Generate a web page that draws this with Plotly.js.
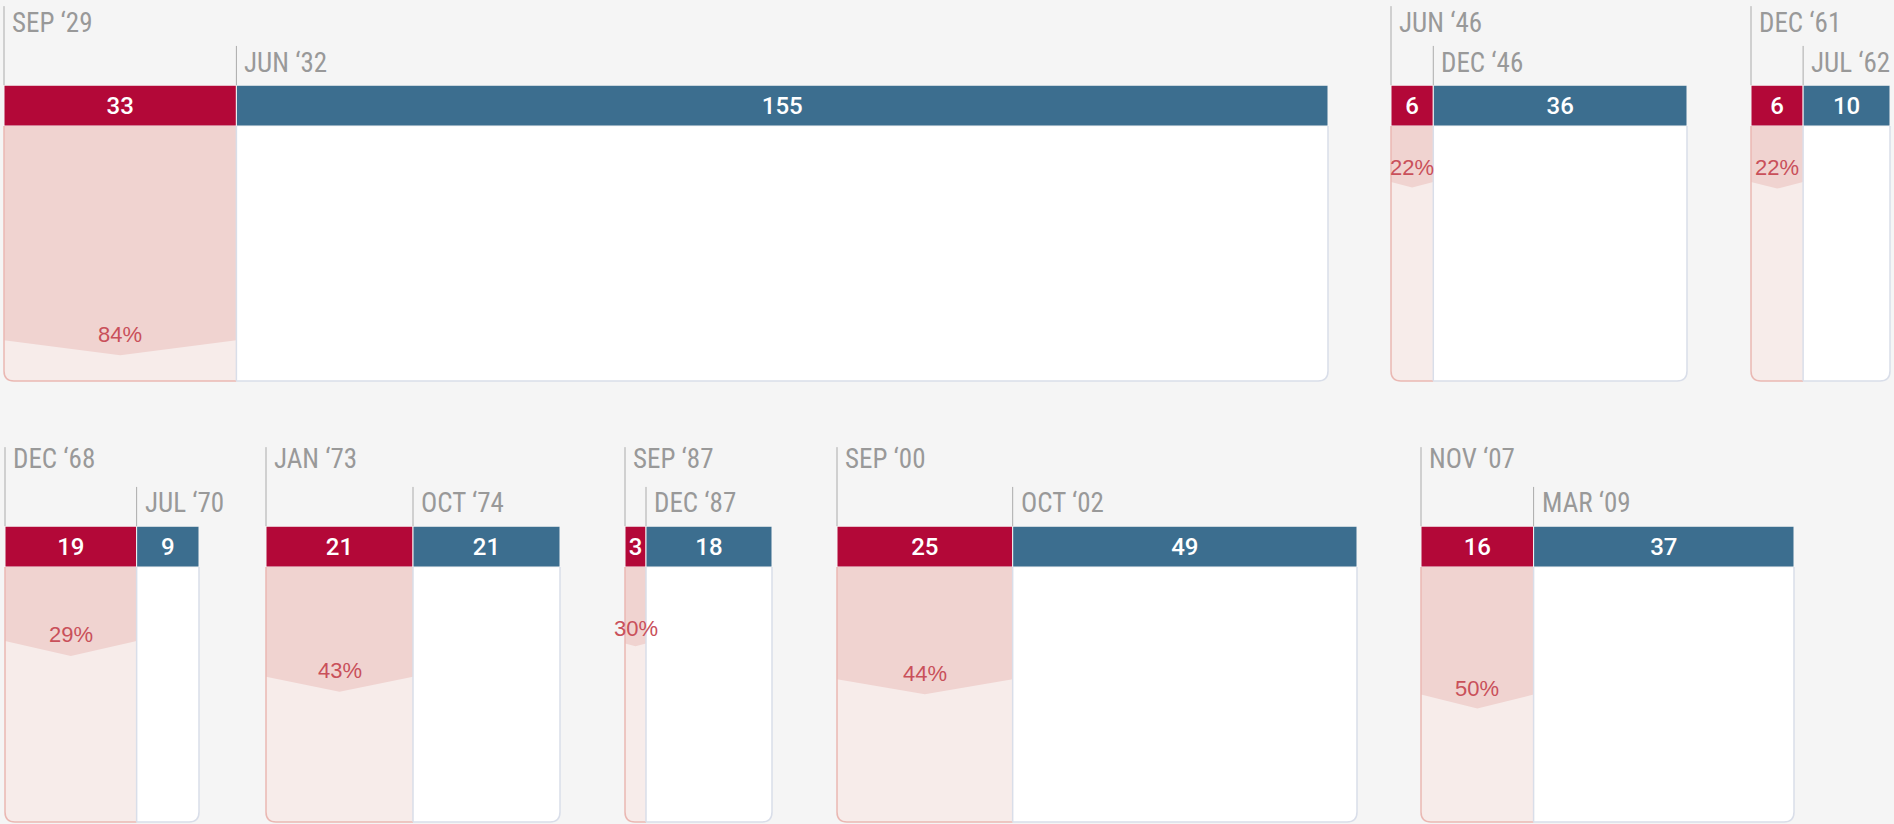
<!DOCTYPE html>
<html>
<head>
<meta charset="utf-8">
<script src="https://cdn.plot.ly/plotly-3.0.1.min.js"></script>
<style>html,body{margin:0;padding:0;background:#f5f5f5;}#chart{width:1894px;height:824px;}</style>
</head>
<body>
<div id="chart"></div>
<script>
// ---------- DATA ----------
const startLabels  = ['SEP \u201829','JUN \u201846','DEC \u201861','DEC \u201868','JAN \u201873','SEP \u201887','SEP \u201800','NOV \u201807'];
const troughLabels = ['JUN \u201832','DEC \u201846','JUL \u201862','JUL \u201870','OCT \u201874','DEC \u201887','OCT \u201802','MAR \u201809'];
const declineMonths  = [33, 6, 6, 19, 21, 3, 25, 16];
const recoveryMonths = [155, 36, 10, 9, 21, 18, 49, 37];
const dropPct        = [84, 22, 22, 29, 43, 30, 44, 50];
const rowOf          = [0, 0, 0, 1, 1, 1, 1, 1];

// ---------- LAYOUT (pixel placement of each group) ----------
const W = 1894, H = 824;
const groupLeftPx  = [4, 1391, 1751, 5, 266, 625, 837, 1421];
const groupRightPx = [1328, 1687, 1890, 199, 560, 772, 1357, 1794];
const YPX = 2.55;               // px per percent unit (panel = 100 units)
const startLabelY  = [40.4, 42.2];
const troughLabelY = [24.7, 25.1];
const RED = '#b30838', BLUE = '#3c6e8f';
const PINK_DARK = '#f0d3d0', PINK_LIGHT = '#f7ecea';
const RED_BORDER = '#eab8b3', BLUE_BORDER = '#d9dee9';
const LABEL_GRAY = '#999999', TICK_GRAY = '#ababab';
const PCT_RED = '#c9505a';
const COND = '"Liberation Sans Narrow","Roboto Condensed","DejaVu Sans Condensed","Arial Narrow",sans-serif';
const SANS = '"Liberation Sans",Arial,Helvetica,sans-serif';
const NUMF = 'Roboto,"Liberation Sans",Arial,sans-serif';

const traces = [], shapes = [], annotations = [];
const layout = {
  width: W, height: H,
  margin: {l:0, r:0, t:0, b:0},
  paper_bgcolor: '#f5f5f5', plot_bgcolor: 'rgba(0,0,0,0)',
  showlegend: false, barmode: 'overlay', hovermode: false,
  yaxis:  {domain:[1-392/H, 1], range:[-100-(392-381)/YPX, 126/YPX], visible:false, fixedrange:true, anchor:'x'},
  yaxis2: {domain:[0, 1-425/H], range:[-100-(824-822)/YPX, (567-425)/YPX], visible:false, fixedrange:true, anchor:'x4'}
};

for (let i = 0; i < declineMonths.length; i++) {
  const d = declineMonths[i], r = recoveryMonths[i], T = d + r, p = dropPct[i];
  const L = groupLeftPx[i], R = groupRightPx[i];
  const ppu = (R - L) / T;                 // px per month in this group
  const padL = Math.min(8, L), padR = Math.min(8, W - R);
  const xa = i === 0 ? 'x' : 'x' + (i + 1);
  const row = rowOf[i];
  const ya = row === 0 ? 'y' : 'y2';
  layout[i === 0 ? 'xaxis' : 'xaxis' + (i + 1)] = {
    domain: [(L - padL) / W, (R + padR) / W],
    range: [-padL / ppu, T + padR / ppu],
    visible: false, fixedrange: true, anchor: ya
  };
  const rx = 10 / ppu, ry = 10 / YPX;

  // column fills
  shapes.push({type:'path', xref:xa, yref:ya, layer:'below', line:{width:0}, fillcolor:PINK_LIGHT,
    path:`M0,0 L0,${-100+ry} Q0,-100 ${rx},-100 L${d},-100 L${d},0 Z`});
  shapes.push({type:'path', xref:xa, yref:ya, layer:'below', line:{width:0}, fillcolor:'#ffffff',
    path:`M${d},0 L${d},-100 L${T-rx},-100 Q${T},-100 ${T},${-100+ry} L${T},0 Z`});
  // outlines
  shapes.push({type:'path', xref:xa, yref:ya, layer:'above', line:{color:RED_BORDER, width:1.5}, fillcolor:'rgba(0,0,0,0)',
    path:`M0,0 L0,${-100+ry} Q0,-100 ${rx},-100 L${d},-100`});
  shapes.push({type:'path', xref:xa, yref:ya, layer:'above', line:{color:BLUE_BORDER, width:1.5}, fillcolor:'rgba(0,0,0,0)',
    path:`M${d},-100 L${T-rx},-100 Q${T},-100 ${T},${-100+ry} L${T},0`});
  shapes.push({type:'line', xref:xa, yref:ya, layer:'above', x0:d, x1:d, y0:0, y1:-100, line:{color:BLUE_BORDER, width:1.5}});
  // date ticks
  shapes.push({type:'line', xref:xa, yref:ya, layer:'above', x0:0, x1:0, y0:16, y1:47, line:{color:TICK_GRAY, width:1}});
  shapes.push({type:'line', xref:xa, yref:ya, layer:'above', x0:d, x1:d, y0:16, y1:31.4, line:{color:TICK_GRAY, width:1}});

  // chevron (drop depth)
  const halfPx = d * ppu / 2;
  const cpx = Math.min(15, 0.25 * halfPx);
  traces.push({type:'scatter', mode:'lines', xaxis:xa, yaxis:ya,
    x:[0, 0, d/2, d, d], y:[0, -p, -p - cpx/YPX, -p, 0],
    fill:'toself', fillcolor:PINK_DARK, line:{width:0}, hoverinfo:'skip'});

  // bars
  traces.push({type:'bar', orientation:'h', xaxis:xa, yaxis:ya, y:[8], x:[d], base:[0], width:[16],
    marker:{color:RED, line:{color:'#f5f5f5', width:1}},
    text:[String(d)], textposition:'inside', insidetextanchor:'middle', textangle:0, constraintext:'none',
    textfont:{color:'#ffffff', size:24, family:NUMF, weight:500}, hoverinfo:'skip', cliponaxis:false});
  traces.push({type:'bar', orientation:'h', xaxis:xa, yaxis:ya, y:[8], x:[r], base:[d], width:[16],
    marker:{color:BLUE, line:{color:'#f5f5f5', width:1}},
    text:[String(r)], textposition:'inside', insidetextanchor:'middle', textangle:0, constraintext:'none',
    textfont:{color:'#ffffff', size:24, family:NUMF, weight:500}, hoverinfo:'skip', cliponaxis:false});

  // labels
  annotations.push({xref:xa, yref:ya, x:0, y:startLabelY[row], text:startLabels[i], showarrow:false,
    xanchor:'left', yanchor:'middle', xshift:6, font:{family:COND, size:27, color:LABEL_GRAY}});
  annotations.push({xref:xa, yref:ya, x:d, y:troughLabelY[row], text:troughLabels[i], showarrow:false,
    xanchor:'left', yanchor:'middle', xshift:6, font:{family:COND, size:27, color:LABEL_GRAY}});
  const off = (d * ppu) < 60 ? 15 : 6;
  annotations.push({xref:xa, yref:ya, x:d/2, y:-p + off/YPX, text:p + '%', showarrow:false,
    xanchor:'center', yanchor:'middle', font:{family:SANS, size:22, color:PCT_RED}});
}

layout.shapes = shapes;
layout.annotations = annotations;
Plotly.newPlot('chart', traces, layout, {staticPlot:true, displayModeBar:false});
</script>
</body>
</html>
